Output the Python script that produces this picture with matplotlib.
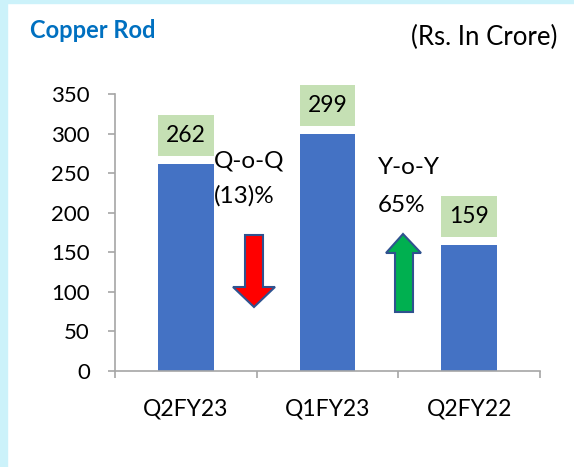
import matplotlib
matplotlib.use("Agg")
import matplotlib.pyplot as plt
from matplotlib.patches import Rectangle, Polygon

categories = ["Q2FY23", "Q1FY23", "Q2FY22"]
values = [262, 299, 159]
yticks = [0, 50, 100, 150, 200, 250, 300, 350]

W, H = 574, 467
plt.rcParams['font.family'] = ['Lato', 'DejaVu Sans']

fig = plt.figure(figsize=(W / 100, H / 100), dpi=100)
fig.patch.set_facecolor('white')

def fx(px):
    return px / W

def fy(py):
    return 1 - py / H

# light cyan frame strips
cyan = '#CCF2FA'
fig.patches.append(Rectangle((0, 0), fx(7), 1, transform=fig.transFigure, color=cyan, zorder=0))
fig.patches.append(Rectangle((0, fy(3)), 1, 1 - fy(3), transform=fig.transFigure, color=cyan, zorder=0))

ax = fig.add_axes([fx(115), fy(371), fx(540) - fx(115), fy(94) - fy(371)])
ax.set_facecolor('none')
x = list(range(len(categories)))
bw = 0.395
ax.bar(x, values, width=bw, color='#4472C4', zorder=2)
ax.set_xlim(-0.5, 2.5)
ax.set_ylim(0, 350)

# data label boxes
for xi, v in zip(x, values):
    ax.add_patch(Rectangle((xi - bw / 2, v + 10), bw, 52, facecolor='#C5E0B4',
                           edgecolor='none', zorder=3, clip_on=False))
    ax.text(xi, v + 36, str(v), ha='center', va='center', fontsize=16.5,
            color='black', zorder=4, clip_on=False)

for s in ['top', 'right']:
    ax.spines[s].set_visible(False)
for s in ['left', 'bottom']:
    ax.spines[s].set_color('#A6A6A6')
    ax.spines[s].set_linewidth(1.2)

ax.set_yticks(yticks)
ax.set_yticklabels([str(t) for t in yticks])
ax.tick_params(axis='y', length=5, width=1.2, color='#A6A6A6', pad=13,
               labelsize=16)
ax.set_xticks(x)
ax.set_xticklabels(categories)
ax.tick_params(axis='x', which='major', length=0, pad=20, labelsize=16.5)
ax.set_xticks([-0.5, 0.5, 1.5, 2.5], minor=True)
ax.tick_params(axis='x', which='minor', length=5, width=1.2, color='#A6A6A6')

# titles
fig.text(fx(30), fy(31), 'Copper Rod', ha='left', va='center', fontsize=17,
         fontweight='bold', color='#0070C0')
fig.text(fx(557), fy(37), '(Rs. In Crore)', ha='right', va='center', fontsize=18.5,
         color='black')

# growth annotations
fig.text(fx(214), fy(161), 'Q-o-Q', ha='left', va='center', fontsize=17.5)
fig.text(fx(214), fy(196), '(13)%', ha='left', va='center', fontsize=17.5)
fig.text(fx(378), fy(168), 'Y-o-Y', ha='left', va='center', fontsize=17.5)
fig.text(fx(378), fy(205), '65%', ha='left', va='center', fontsize=17.5)

red_px = [(245, 235), (263, 235), (263, 287), (275, 287), (254, 307),
          (233, 287), (245, 287)]
green_px = [(403, 234), (421, 253), (413, 253), (413, 312), (395, 312),
            (395, 253), (386, 253)]
for pts, col in [(red_px, '#FF0000'), (green_px, '#00B050')]:
    fig.patches.append(Polygon([(fx(a), fy(b)) for a, b in pts], closed=True,
                               transform=fig.transFigure, facecolor=col,
                               edgecolor='#2F528F', linewidth=1.5, zorder=5))

fig.savefig('out.png', dpi=100)
